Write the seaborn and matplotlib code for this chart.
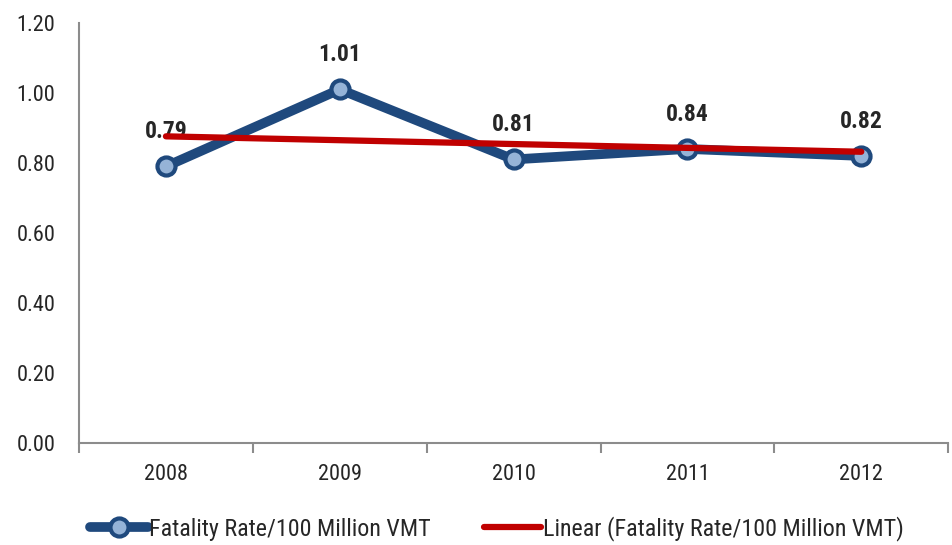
import numpy as np
import pandas as pd
import seaborn as sns
from matplotlib import pyplot as plt
from matplotlib.lines import Line2D

years = ['2008', '2009', '2010', '2011', '2012']
fatality_rate = [0.79, 1.01, 0.81, 0.84, 0.82]
y_ticks = [0.0, 0.2, 0.4, 0.6, 0.8, 1.0, 1.2]

series_name = 'Fatality Rate/100 Million VMT'
trend_name = 'Linear (Fatality Rate/100 Million VMT)'

blue = '#1F497D'
light_blue = '#95B3D7'
red = '#C00000'
grey = '#8C8C8C'

sns.set_style('white')
plt.rcParams['font.family'] = ['Roboto Condensed', 'Liberation Sans', 'DejaVu Sans']

df = pd.DataFrame({'pos': np.arange(len(years)), 'rate': fatality_rate})

fig = plt.figure(figsize=(9.52, 5.45), dpi=100)
ax = fig.add_axes([0.083, 0.187, 0.913, 0.771])

sns.lineplot(data=df, x='pos', y='rate', ax=ax, color=blue, linewidth=7,
             marker='o', markersize=13, markerfacecolor=light_blue,
             markeredgecolor=blue, markeredgewidth=3, zorder=2)
# linear trend line, fitted by seaborn
sns.regplot(data=df, x='pos', y='rate', ax=ax, scatter=False, ci=None,
            line_kws={'color': red, 'linewidth': 4.5, 'zorder': 3})

for i, v in enumerate(fatality_rate):
    ax.annotate(f'{v:.2f}', (i, v), xytext=(0, 25), textcoords='offset points',
                ha='center', va='center', fontsize=17, fontweight='bold', zorder=1)

ax.set_xlim(-0.5, len(years) - 0.5)
ax.set_ylim(0, 1.2)
ax.set_yticks(y_ticks)
ax.set_yticklabels([f'{t:.2f}' for t in y_ticks])
ax.set_xticks(np.arange(len(years)))
ax.set_xticklabels(years)
ax.set_xticks(np.arange(-0.5, len(years)), minor=True)
ax.set_xlabel('')
ax.set_ylabel('')

for side in ['top', 'right']:
    ax.spines[side].set_visible(False)
for side in ['left', 'bottom']:
    ax.spines[side].set_color(grey)
    ax.spines[side].set_linewidth(1.5)

ax.tick_params(axis='y', which='major', direction='inout', length=14, width=1.5,
               color=grey, labelsize=16, pad=10)
ax.tick_params(axis='x', which='major', length=0, labelsize=16, pad=15)
ax.tick_params(axis='x', which='minor', direction='out', length=7, width=1.5,
               color=grey, bottom=True)

handles = [
    Line2D([], [], color=blue, linewidth=7, marker='o', markersize=13,
           markerfacecolor=light_blue, markeredgecolor=blue, markeredgewidth=3),
    Line2D([], [], color=red, linewidth=4.5),
]
fig.legend(handles, [series_name, trend_name], loc='center',
           bbox_to_anchor=(0.522, 0.03), ncol=2, frameon=False, fontsize=17.3,
           handlelength=2.4, handletextpad=0.05, columnspacing=2.2,
           borderpad=0)

fig.savefig('out.png', dpi=100)
